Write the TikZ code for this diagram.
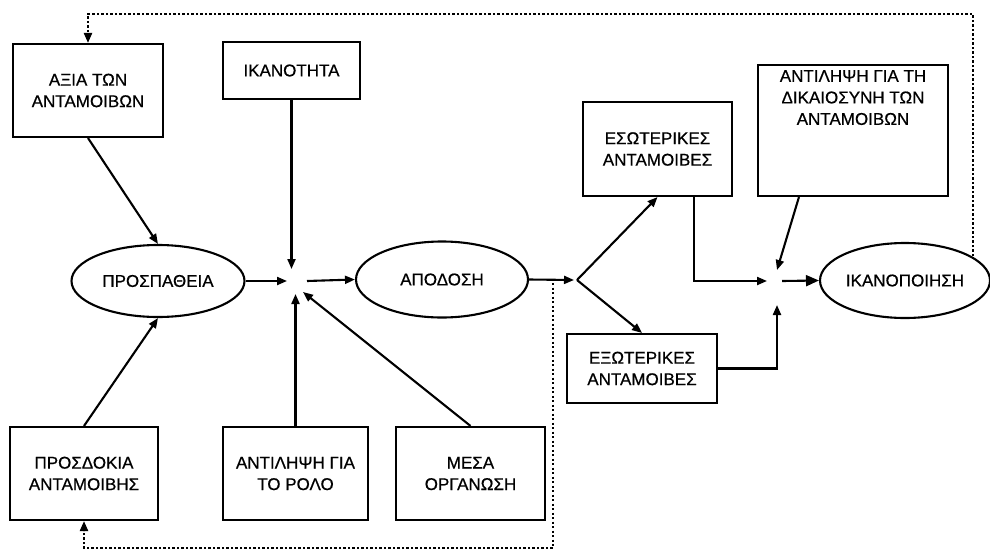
\documentclass[tikz,border=0pt]{standalone}
\usepackage{fontspec}
\setmainfont{Liberation Sans}
\newfontfamily\lblfont{Liberation Sans}[FakeBold=0.6]
\usetikzlibrary{arrows.meta,calc,shapes.geometric}
\begin{document}
\begin{tikzpicture}[x=1pt,y=-1pt,
  lbl/.style={font=\lblfont\fontsize{17}{21.5}\selectfont},
  box/.style={draw, line width=2.1pt, inner sep=0pt, align=center, lbl},
  ell/.style={draw, ellipse, line width=2.1pt, inner sep=0pt, lbl},
  ln/.style={line width=2.1pt},
  arr/.style={ln, -{Triangle[length=10pt,width=8pt]}},
  bigarr/.style={ln, -{Triangle[length=13pt,width=11pt]}},
  dotln/.style={line width=2.2pt, dash pattern=on 2.2pt off 2.3pt}
]
\useasboundingbox (0,0) rectangle (990,557);

% boxes
\node[box, minimum width=150pt, minimum height=93pt] (axia) at (88,90.5) {ΑΞΙΑ ΤΩΝ\\ΑΝΤΑΜΟΙΒΩΝ};
\node[box, minimum width=137pt, minimum height=57pt] (ikan) at (291.5,70.5) {ΙΚΑΝΟΤΗΤΑ};
\node[box, minimum width=149pt, minimum height=94pt] (esot) at (657.5,149) {ΕΣΩΤΕΡΙΚΕΣ\\ΑΝΤΑΜΟΙΒΕΣ};
\node[box, minimum width=190pt, minimum height=131pt, text depth=66pt] (dikaio) at (853,130.5) {ΑΝΤΙΛΗΨΗ ΓΙΑ ΤΗ\\ΔΙΚΑΙΟΣΥΝΗ ΤΩΝ\\ΑΝΤΑΜΟΙΒΩΝ};
\node[box, minimum width=148pt, minimum height=93pt] (prosd) at (84,473.5) {ΠΡΟΣΔΟΚΙΑ\\ΑΝΤΑΜΟΙΒΗΣ};
\node[box, minimum width=145pt, minimum height=93pt] (rolo) at (295.5,473.5) {ΑΝΤΙΛΗΨΗ ΓΙΑ\\ΤΟ ΡΟΛΟ};
\node[box, minimum width=149pt, minimum height=93pt] (mesa) at (470.5,473.5) {ΜΕΣΑ\\ΟΡΓΑΝΩΣΗ};
\node[box, minimum width=150pt, minimum height=69pt] (exot) at (642,368.5) {ΕΞΩΤΕΡΙΚΕΣ\\ΑΝΤΑΜΟΙΒΕΣ};

% ellipses
\node[ell, minimum width=173pt, minimum height=72pt] (prosp) at (158,281) {ΠΡΟΣΠΑΘΕΙΑ};
\node[ell, minimum width=172pt, minimum height=76pt] (apod) at (442,279.5) {ΑΠΟΔΟΣΗ};
\node[ell, minimum width=170pt, minimum height=75pt] (ikanop) at (905,280.5) {ΙΚΑΝΟΠΟΙΗΣΗ};

% junctions
\coordinate (j1) at (294,281);
\coordinate (j2) at (577,280);
\coordinate (j3) at (777,281);

% connectors into effort
\draw[arr] (axia.south) -- (prosp.north);
\draw[arr] (prosd.north) -- (prosp.south);

% junction 1
\draw[arr] (prosp.east) -- ($(j1)+(-7,0)$);
\draw[arr] (ikan.south) -- ($(ikan.south |- j1)+(0,-12)$);
\draw[arr] (rolo.north) -- ($(rolo.north |- j1)+(0,13)$);
\draw[arr] (mesa.north) -- ($(j1)+(9,11)$);
\draw[arr] ($(j1)+(13,0)$) -- (apod.west);

% junction 2
\draw[arr] (apod.east) -- ($(j2)+(-3,0)$);
\draw[arr] (j2) -- (esot.south);
\draw[arr] (j2) -- (exot.north);

% junction 3
\draw[arr] ($(esot.south east)+(-39,0)$) |- ($(j3)+(-10,0)$);
\draw[arr] ($(dikaio.south west)+(42,0)$) -- ($(j3)+(0,-11)$);
\draw[arr] (exot.east) -| ($(j3)+(0,24)$);
\draw[bigarr] ($(j3)+(5,0)$) -- (ikanop.west);

% feedback loops
\coordinate (fbS) at (973,256);
\coordinate (fbTR) at (973,14);
\coordinate (fbB) at (553,283);
\coordinate (fbBR) at (553,548);
\draw[dotln, -{Triangle[length=10pt,width=8pt]}] (fbS) -- (fbTR) -| (axia.north);
\draw[dotln, -{Triangle[length=10pt,width=8pt]}] (fbB) -- (fbBR) -| (prosd.south);
\end{tikzpicture}
\end{document}
